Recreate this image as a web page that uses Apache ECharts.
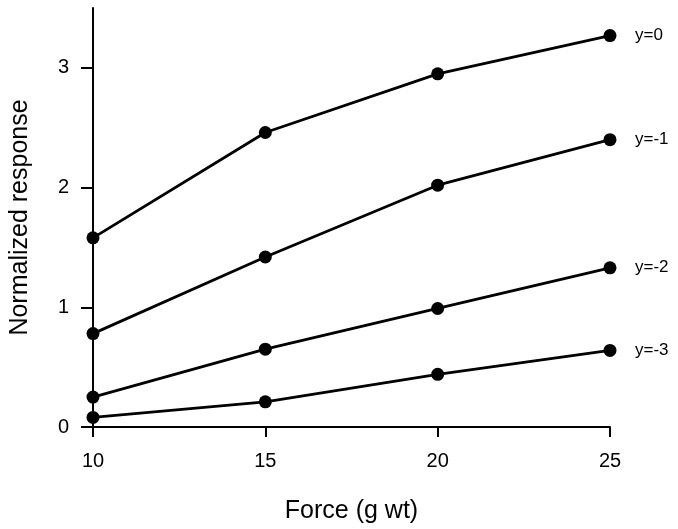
<!DOCTYPE html>
<html>
<head>
<meta charset="utf-8">
<script src="https://cdn.jsdelivr.net/npm/echarts@6/dist/echarts.min.js"></script>
<style>html,body{margin:0;padding:0;background:#fff}#c{width:678px;height:529px}</style>
</head>
<body>
<div id="c"></div>
<script>
var forces = [10, 15, 20, 25];
var seriesNames = ['y=0', 'y=-1', 'y=-2', 'y=-3'];
var y0 = [1.58, 2.46, 2.95, 3.27];
var y1 = [0.78, 1.42, 2.02, 2.40];
var y2 = [0.25, 0.65, 0.99, 1.33];
var y3 = [0.08, 0.21, 0.44, 0.64];
var xTicks = [10, 15, 20, 25];
var yTicks = [0, 1, 2, 3];
var allValues = [y0, y1, y2, y3];

var chart = echarts.init(document.getElementById('c'));
var font = 'Liberation Sans, Arial, sans-serif';
var series = allValues.map(function (vals, i) {
  return {
    name: seriesNames[i],
    type: 'line',
    data: forces.map(function (f, j) { return [f, vals[j]]; }),
    symbol: 'circle',
    symbolSize: 13,
    lineStyle: { color: '#000', width: 2.8 },
    itemStyle: { color: '#000' },
    animation: false,
    endLabel: {
      show: true,
      formatter: seriesNames[i],
      color: '#000',
      fontSize: 17,
      fontFamily: font,
      distance: 25
    }
  };
});

chart.setOption({
  backgroundColor: '#fff',
  animation: false,
  grid: { left: 92, right: 68, top: 8, bottom: 101 },
  xAxis: {
    type: 'value',
    min: 10, max: 25, interval: 5,
    name: 'Force (g wt)',
    nameLocation: 'middle',
    nameGap: 72,
    nameTextStyle: { fontSize: 25, fontFamily: font, color: '#000' },
    axisLine: { show: true, lineStyle: { color: '#000', width: 2 } },
    axisTick: { show: true, length: 10, lineStyle: { color: '#000', width: 2 }, customValues: xTicks },
    axisLabel: { color: '#000', fontSize: 20, fontFamily: font, margin: 24, customValues: xTicks },
    splitLine: { show: false }
  },
  yAxis: {
    type: 'value',
    min: 0, max: 3.5, interval: 1,
    name: 'Normalized response',
    nameLocation: 'middle',
    nameGap: 60,
    nameTextStyle: { fontSize: 25, fontFamily: font, color: '#000' },
    axisLine: { show: true, lineStyle: { color: '#000', width: 2 } },
    axisTick: { show: true, length: 12, lineStyle: { color: '#000', width: 2 }, customValues: yTicks },
    axisLabel: { color: '#000', fontSize: 20, fontFamily: font, margin: 24, customValues: yTicks },
    splitLine: { show: false }
  },
  series: series
});
</script>
</body>
</html>
